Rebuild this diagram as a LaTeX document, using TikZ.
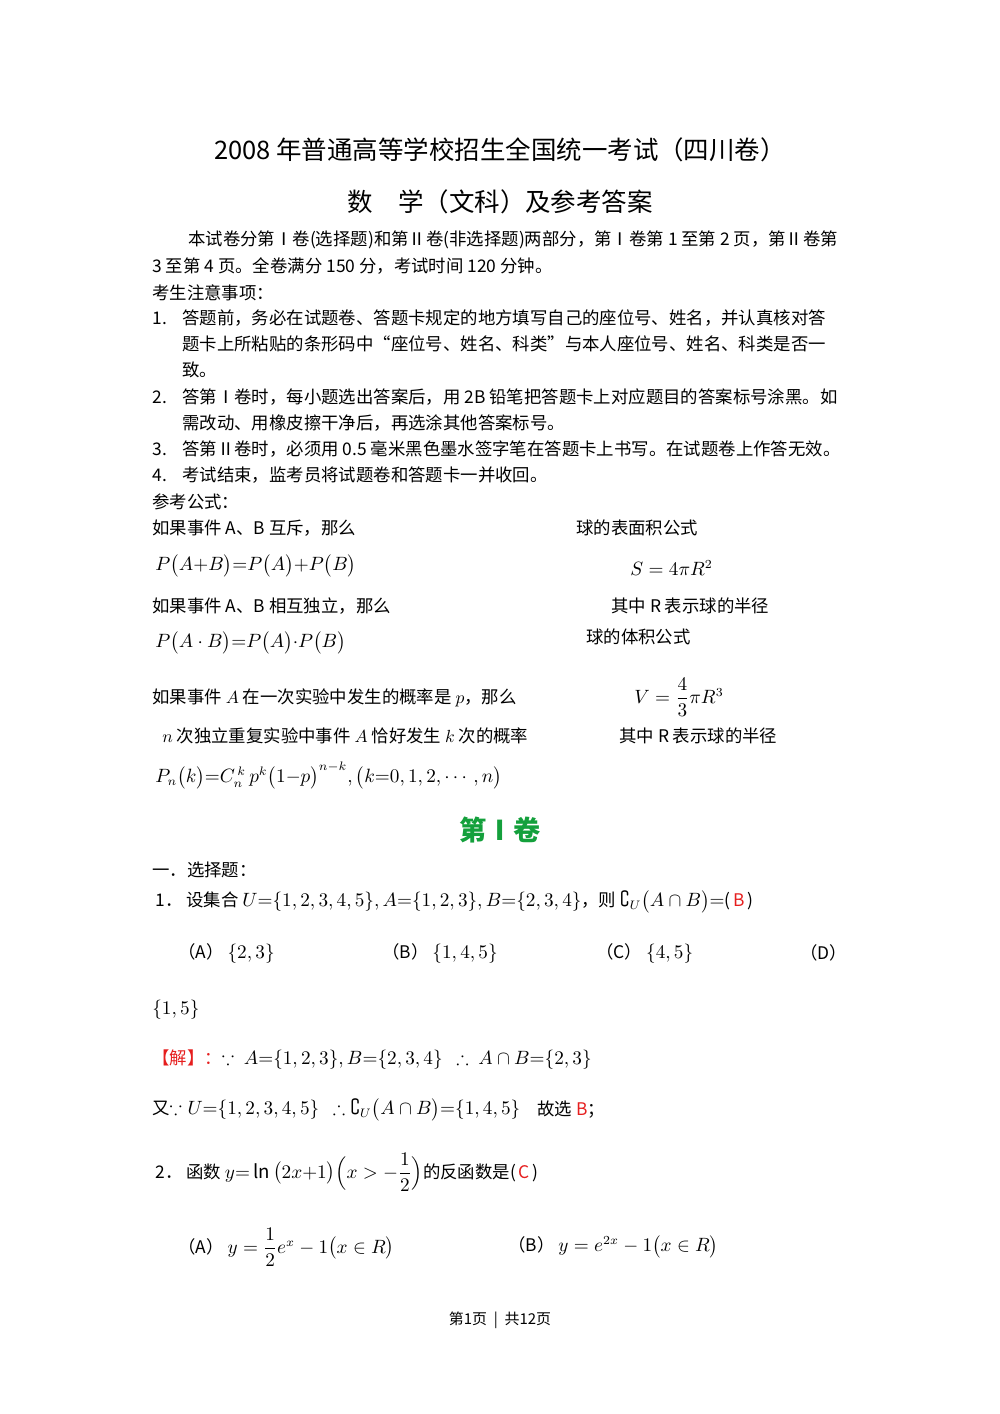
\documentclass[tikz,border=0pt]{standalone}
\usepackage{fontspec}
\usepackage{amsmath,amssymb}
\setmainfont{Noto Sans CJK SC}
\definecolor{ansred}{RGB}{230,30,30}
\definecolor{titlegreen}{RGB}{20,160,60}
\newcommand{\mthsz}{\fontsize{10.6pt}{12pt}\selectfont}
\newcommand{\txtsz}{\fontsize{9.9pt}{11pt}\selectfont}
\begin{document}
\begin{tikzpicture}[x=0.02cm,y=-0.02cm,
  txt/.style={anchor=west,inner sep=0pt,font=\txtsz},
  mth/.style={anchor=west,inner sep=0pt,font=\mthsz},
  ttl/.style={inner sep=0pt,font=\fontsize{14.5pt}{16pt}\selectfont}]
\useasboundingbox[fill=white] (0,0) rectangle (1000,1414);
\node[ttl] (t1) at (500,150) {2008 年普通高等学校招生全国统一考试（四川卷）};
\node[ttl] (t2) at (500,202) {数\quad 学（文科）及参考答案};
\node[txt] (p1) at (188,240) {本试卷分第Ⅰ卷(选择题)和第Ⅱ卷(非选择题)两部分，第Ⅰ卷第 1 至第 2 页，第Ⅱ卷第};
\node[txt] (p2) at (152,266) {3 至第 4 页。全卷满分 150 分，考试时间 120 分钟。};
\node[txt] (p3) at (152,293) {考生注意事项：};
\node[txt] (n1) at (152,318) {1.};
\node[txt] (l1) at (182,318) {答题前，务必在试题卷、答题卡规定的地方填写自己的座位号、姓名，并认真核对答};
\node[txt] (l2) at (182,344) {题卡上所粘贴的条形码中“座位号、姓名、科类”与本人座位号、姓名、科类是否一};
\node[txt] (l3) at (182,370) {致。};
\node[txt] (n2) at (152,397) {2.};
\node[txt] (l4) at (182,397) {答第Ⅰ卷时，每小题选出答案后，用 2B 铅笔把答题卡上对应题目的答案标号涂黑。如};
\node[txt] (l5) at (182,423) {需改动、用橡皮擦干净后，再选涂其他答案标号。};
\node[txt] (n3) at (152,449) {3.};
\node[txt] (l6) at (182,449) {答第Ⅱ卷时，必须用 0.5 毫米黑色墨水签字笔在答题卡上书写。在试题卷上作答无效。};
\node[txt] (n4) at (152,475) {4.};
\node[txt] (l7) at (182,475) {考试结束，监考员将试题卷和答题卡一并收回。};
\node[txt] (r0) at (152,502) {参考公式：};
\node[txt] (r1) at (152,528) {如果事件 A、B 互斥，那么};
\node[txt] (s1) at (576,528) {球的表面积公式};
\node[mth] (f1) at (155,566) {$P\big(A{+}B\big){=}P\big(A\big){+}P\big(B\big)$};
\node[mth] (f2) at (630,568) {$S=4\pi R^2$};
\node[txt] (r2) at (152,606) {如果事件 A、B 相互独立，那么};
\node[txt] (s2) at (611,606) {其中 R 表示球的半径};
\node[mth] (f3) at (155,643) {$P\big(A\cdot B\big){=}P\big(A\big){\cdot}P\big(B\big)$};
\node[txt] (s3) at (586,637) {球的体积公式};
\node[txt] (r3) at (152,698) {如果事件 $A$ 在一次实验中发生的概率是 $p$，那么};
\node[mth] (f4) at (634,697) {$V=\dfrac{4}{3}\pi R^3$};
\node[txt] (r4) at (162,736) {$n$ 次独立重复实验中事件 $A$ 恰好发生 $k$ 次的概率};
\node[txt] (s4) at (619,736) {其中 R 表示球的半径};
\node[mth] (f5) at (155,776) {$P_n\big(k\big){=}C_n^{\,k}\, p^k\big(1{-}p\big)^{n-k},\big(k{=}0,1,2,\cdots,n\big)$};
\node[ttl,font=\fontsize{15.5pt}{17pt}\selectfont\bfseries,text=titlegreen] (sec) at (500,830) {第Ⅰ卷};
\node[txt] (q0) at (152,870) {一．选择题：};
\node[txt] (q1) at (155,902) {1． 设集合 \mthsz$U{=}\{1,2,3,4,5\},A{=}\{1,2,3\},B{=}\{2,3,4\}$\txtsz，则 \mthsz$\complement_U\big(A\cap B\big){=}$\txtsz(\,\textcolor{ansred}{B}\,)};
\node[txt] (a1) at (178,953) {（A） \mthsz$\{2,3\}$};
\node[txt] (b1) at (382,953) {（B） \mthsz$\{1,4,5\}$};
\node[txt] (c1) at (596,953) {（C） \mthsz$\{4,5\}$};
\node[txt] (d1) at (800,953) {（D）};
\node[mth] (d1b) at (152,1010) {$\{1,5\}$};
\node[txt] (j1) at (152,1060) {\textcolor{ansred}{【解】：}\mthsz$\because\ A{=}\{1,2,3\},B{=}\{2,3,4\}\ \ \therefore\ A\cap B{=}\{2,3\}$};
\node[txt] (j2) at (152,1110) {又\mthsz$\because U{=}\{1,2,3,4,5\}\ \ \therefore\complement_U\big(A\cap B\big){=}\{1,4,5\}$};
\node[txt] (j3) at (537,1110) {故选 \textcolor{ansred}{B}；};
\node[txt] (q2) at (155,1172) {2． 函数 \mthsz$y{=}\ln\big(2x{+}1\big)\Big(x>-\dfrac12\Big)$\txtsz 的反函数是(\,\textcolor{ansred}{C}\,)};
\node[txt] (a2) at (178,1247) {（A） \mthsz$y=\dfrac12 e^x-1\big(x\in R\big)$};
\node[txt] (b2) at (508,1247) {（B） \mthsz$y=e^{2x}-1\big(x\in R\big)$};
\node[inner sep=0pt,font=\fontsize{8.5pt}{10pt}\selectfont] (ft) at (500,1320) {第1页 \ | \ 共12页};
\end{tikzpicture}
\end{document}
